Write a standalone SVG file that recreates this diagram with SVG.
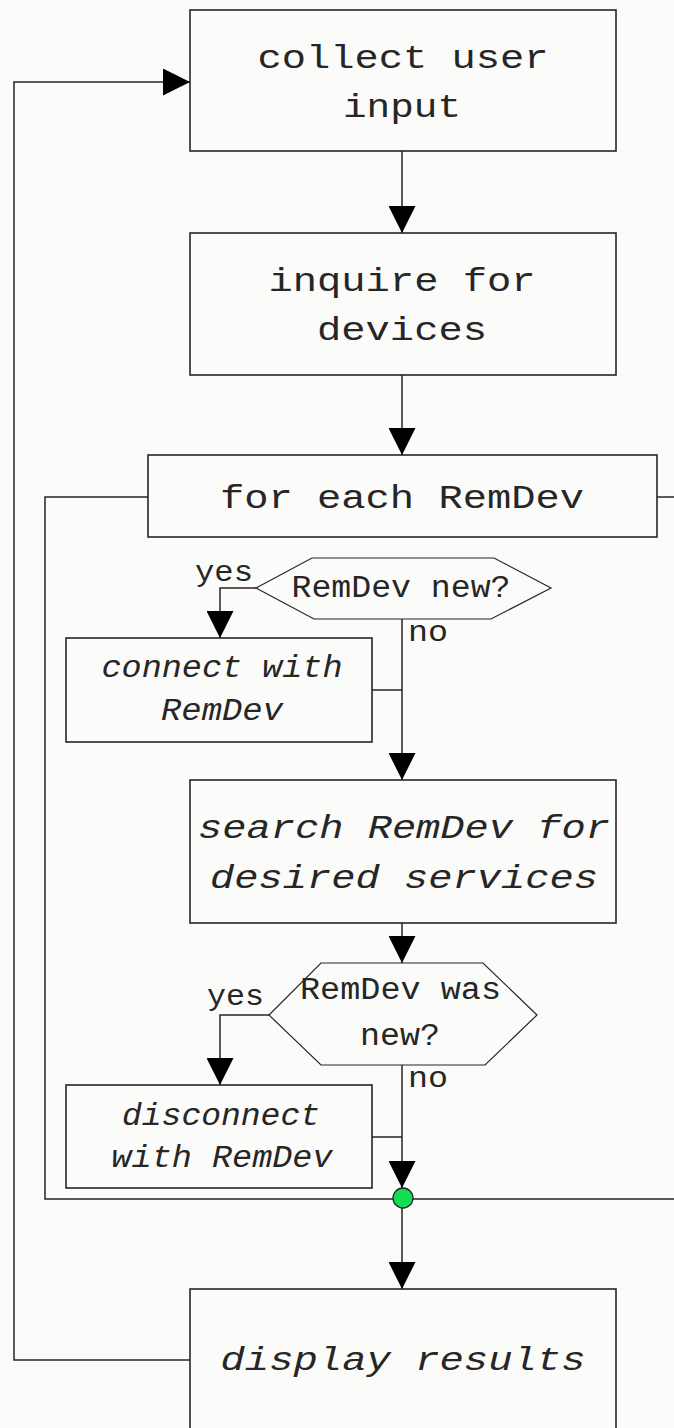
<svg xmlns="http://www.w3.org/2000/svg" width="674" height="1428" viewBox="0 0 674 1428">
<style>
.bg{fill:#fbfbf9}
.box{fill:none;stroke:#262626;stroke-width:1.6}
.hex{fill:none;stroke:#262626;stroke-width:1.2}
.ln{fill:none;stroke:#262626;stroke-width:1.5}
.arr{marker-end:url(#ah)}
text{font-family:"Liberation Mono","Courier New",monospace;fill:#262626;text-anchor:middle}
.big{font-size:34px}
.sm{font-size:31px}
.it{font-style:italic}
.lbl{font-size:30px;text-anchor:start}
.dot{fill:#11dd55;stroke:#262626;stroke-width:1.3}
</style>
<defs>
<marker id="ah" markerUnits="userSpaceOnUse" markerWidth="27" markerHeight="27" refX="27" refY="13.5" orient="auto" viewBox="0 0 27 27">
<path d="M0,0 L27,13.5 L0,27 z" fill="#000"/>
</marker>
</defs>
<rect class="bg" x="0" y="0" width="674" height="1428"/>
<g id="connectors">
<path class="ln arr" d="M190,1360 H14 V82 H190"/>
<path class="ln arr" d="M402,151 V233"/>
<path class="ln arr" d="M402,375 V455"/>
<path class="ln" d="M148,497 H45 V1199 H674"/>
<path class="ln" d="M657,497 H674"/>
<path class="ln arr" d="M256,588 H220 V638"/>
<path class="ln arr" d="M402,619 V780"/>
<path class="ln" d="M372,690 H402"/>
<path class="ln arr" d="M402,923 V963"/>
<path class="ln arr" d="M269,1015 H220 V1085"/>
<path class="ln arr" d="M402,1065 V1188"/>
<path class="ln" d="M372,1137 H402"/>
<path class="ln arr" d="M402,1208 V1289"/>
</g>
<g id="collect">
<rect class="box" x="190" y="10" width="426" height="141"/>
<text class="big" x="403" y="68" textLength="291" lengthAdjust="spacingAndGlyphs">collect user</text>
<text class="big" x="402" y="117" textLength="118" lengthAdjust="spacingAndGlyphs">input</text>
</g>
<g id="inquire">
<rect class="box" x="190" y="233" width="426" height="142"/>
<text class="big" x="402" y="291" textLength="267" lengthAdjust="spacingAndGlyphs">inquire for</text>
<text class="big" x="402" y="340" textLength="170" lengthAdjust="spacingAndGlyphs">devices</text>
</g>
<g id="foreach">
<rect class="box" x="148" y="455" width="509" height="82"/>
<text class="big" x="402" y="508" textLength="364" lengthAdjust="spacingAndGlyphs">for each RemDev</text>
</g>
<g id="decision1">
<polygon class="hex" points="256,588 312,558 494,558 551,588 491,619 314,619"/>
<text class="sm" x="401" y="597" textLength="219" lengthAdjust="spacingAndGlyphs">RemDev new?</text>
<text class="lbl" x="195" y="581" textLength="58" lengthAdjust="spacingAndGlyphs">yes</text>
<text class="lbl" x="408" y="641" textLength="40" lengthAdjust="spacingAndGlyphs">no</text>
</g>
<g id="connect">
<rect class="box" x="66" y="638" width="306" height="104"/>
<text class="sm it" x="222" y="677" textLength="241" lengthAdjust="spacingAndGlyphs">connect with</text>
<text class="sm it" x="222" y="720" textLength="122" lengthAdjust="spacingAndGlyphs">RemDev</text>
</g>
<g id="search">
<rect class="box" x="190" y="780" width="426" height="143"/>
<text class="big it" x="404" y="838" textLength="412" lengthAdjust="spacingAndGlyphs">search RemDev for</text>
<text class="big it" x="404" y="888" textLength="388" lengthAdjust="spacingAndGlyphs">desired services</text>
</g>
<g id="decision2">
<polygon class="hex" points="269,1015 321,963 483,963 537,1015 485,1065 321,1065"/>
<text class="sm" x="400.5" y="999" textLength="201" lengthAdjust="spacingAndGlyphs">RemDev was</text>
<text class="sm" x="400" y="1045" textLength="80" lengthAdjust="spacingAndGlyphs">new?</text>
<text class="lbl" x="207" y="1005" textLength="57" lengthAdjust="spacingAndGlyphs">yes</text>
<text class="lbl" x="408" y="1087" textLength="40" lengthAdjust="spacingAndGlyphs">no</text>
</g>
<g id="disconnect">
<rect class="box" x="66" y="1085" width="306" height="103"/>
<text class="sm it" x="221" y="1125" textLength="198" lengthAdjust="spacingAndGlyphs">disconnect</text>
<text class="sm it" x="222" y="1167" textLength="221" lengthAdjust="spacingAndGlyphs">with RemDev</text>
</g>
<g id="junction">
<circle class="dot" cx="403" cy="1198" r="10"/>
</g>
<g id="display">
<rect class="box" x="190" y="1289" width="426" height="160"/>
<text class="big it" x="403" y="1370" textLength="365" lengthAdjust="spacingAndGlyphs">display results</text>
</g>
</svg>
